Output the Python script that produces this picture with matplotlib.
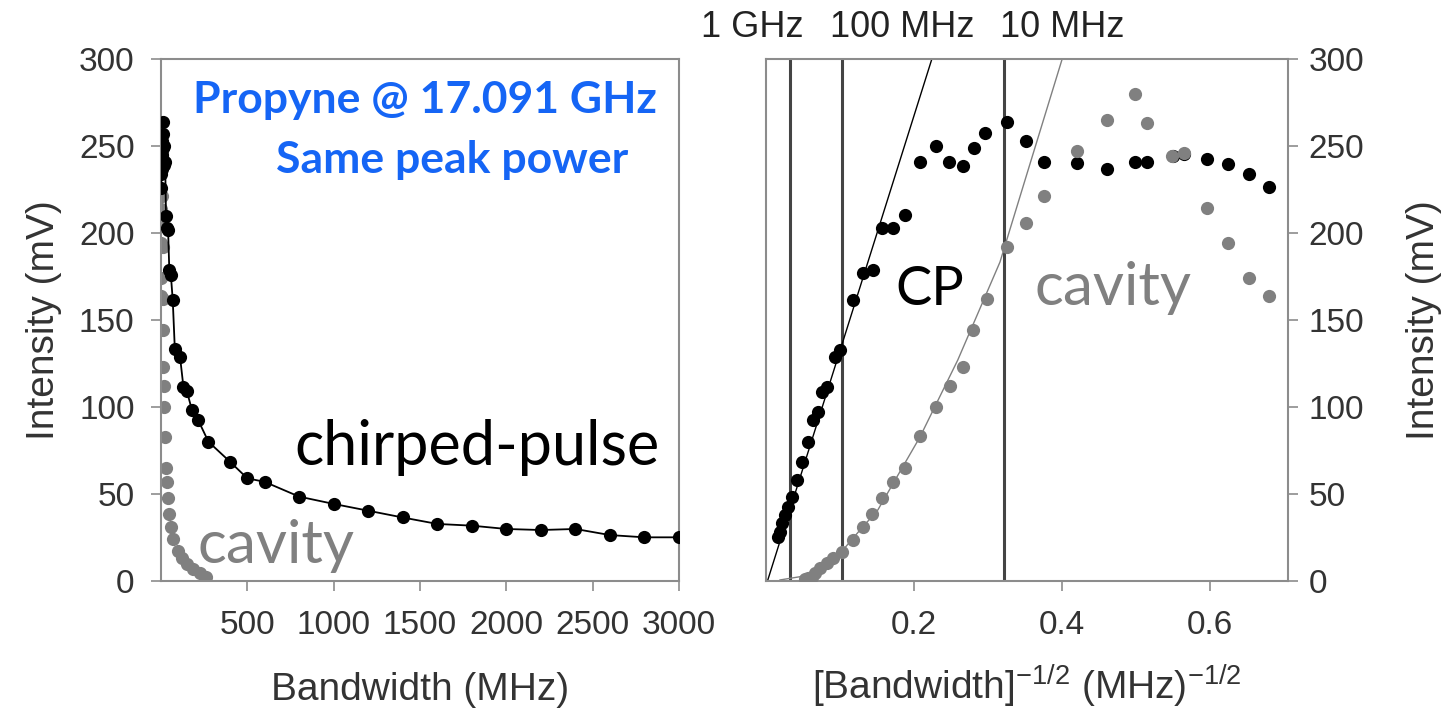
import matplotlib
matplotlib.use('Agg')
import matplotlib.pyplot as plt

plt.rcParams.update({
    'font.family': 'Liberation Sans',
    'mathtext.default': 'regular',
    'font.size': 22,
})

# left panel: intensity vs bandwidth
cp_bw = [2, 2.5, 3, 3.5, 4, 5, 6, 7, 8, 10, 12, 13, 15, 17, 19, 24, 29, 35, 41, 48,
         57, 68, 80, 110, 130, 150, 180, 215, 275, 400, 500, 600, 800, 1000, 1200,
         1400, 1600, 1800, 2000, 2200, 2400, 2600, 2800, 3000]
cp_mv = [226, 234, 242, 245, 241, 237, 240, 241, 253, 264, 257, 249, 239, 241, 250,
         241, 210, 203, 202, 179, 176, 161.5, 133.5, 129, 111.5, 109, 98, 92.5, 80,
         68.5, 59, 57, 48.5, 44.3, 40.4, 36.5, 32.8, 31.8, 29.9, 29.3, 29.9, 26.4,
         25.1, 25.1]
cav_bw = [2.2, 2.35, 2.6, 2.8, 3.1, 3.3, 3.8, 5.7, 7.1, 8.1, 9.5, 11.3,
          12.8, 14, 16, 19, 23, 28, 34, 41, 48, 58, 72, 96, 121, 149, 188, 228, 262]
cav_mv = [164, 174, 194, 214, 246, 244, 250, 247, 221, 206, 192, 162, 144,
          123, 112, 100, 83, 65, 57, 47.5, 38.5, 31, 24, 17, 13, 10, 7, 4.4, 2.5]

# right panel: intensity vs bandwidth^-1/2
cp_inv = [0.0166, 0.0189, 0.0212, 0.0257, 0.0301, 0.0347, 0.0415, 0.0482, 0.0572,
          0.0639, 0.0707, 0.0753, 0.0820, 0.0932, 0.1000, 0.118, 0.1315, 0.145,
          0.1564, 0.172, 0.188, 0.208, 0.229, 0.247, 0.266, 0.281, 0.296, 0.325,
          0.351, 0.375, 0.420, 0.460, 0.498, 0.514, 0.550, 0.565, 0.595, 0.624,
          0.652, 0.679]
cp_inv_mv = [25.5, 28.3, 33.2, 37.9, 42.7, 48.4, 58.0, 68.6, 80.1, 92.5, 97.3, 108.8,
             111.7, 128.9, 132.8, 161.5, 176.8, 178.7, 202.7, 202.7, 210.3, 241, 250.2,
             241, 238.5, 248.7, 257.3, 264, 252.9, 241, 240.4, 236.6, 241, 241, 244.3,
             245.4, 242.7, 239.7, 233.7, 226.3]
cav_inv = [0.053, 0.057, 0.0618, 0.0662, 0.0730, 0.0820, 0.0909, 0.1023, 0.118,
           0.1315, 0.1436, 0.1564, 0.172, 0.188, 0.208, 0.230, 0.249, 0.266, 0.280,
           0.298, 0.325, 0.351, 0.375, 0.420, 0.460, 0.498, 0.514, 0.548, 0.564,
           0.595, 0.624, 0.652, 0.679]
cav_inv_mv = [1.1, 1.7, 2.5, 4.4, 7.3, 10.2, 13.0, 16.8, 23.6, 31.2, 38.5, 47.5, 56.7,
              64.8, 83.3, 99.8, 112.1, 123.2, 144.3, 162.1, 192.1, 205.6, 221.3, 247.3,
              264.9, 279.9, 263.0, 244.3, 246.1, 214.2, 194.1, 174.0, 163.8]

# fit lines
cp_fit_x = [0.002, 0.224]
cp_fit_y = [0, 300]
cav_fit_x = [0.0189, 0.0595, 0.1027, 0.127, 0.151, 0.208, 0.259, 0.316, 0.354, 0.400]
cav_fit_y = [0.6, 3.4, 17.2, 29.3, 40.8, 82.8, 127, 183.3, 236.2, 300]

marker_lines = [0.033, 0.102, 0.321]
marker_labels = ['1 GHz', '100 MHz', '10 MHz']

GRAY = '#808080'
SPINE = '#8c8c8c'
TXT = '#333333'
BLUE = '#1565f5'


def style_axes(ax):
    for s in ax.spines.values():
        s.set_color(SPINE)
        s.set_linewidth(1.5)
    ax.tick_params(colors=SPINE, labelcolor=TXT, labelsize=24, length=7, width=1.2)


fig = plt.figure(figsize=(14.43, 7.10), dpi=100)
ax1 = fig.add_axes([161 / 1443, 1 - 581 / 710, (679 - 161) / 1443, 522 / 710])
ax2 = fig.add_axes([766 / 1443, 1 - 581 / 710, (1288 - 766) / 1443, 522 / 710])

# left panel
ax1.plot(cav_bw, cav_mv, 'o', color=GRAY, ms=9.5, mec='none', zorder=2)
ax1.plot(cp_bw, cp_mv, '-o', color='black', lw=1.3, ms=9.5, mec='none', zorder=3)
ax1.set_xlim(0, 3000)
ax1.set_ylim(0, 300)
ax1.set_xticks([500, 1000, 1500, 2000, 2500, 3000])
ax1.set_yticks(range(0, 301, 50))
ax1.set_xlabel('Bandwidth (MHz)', color=TXT, fontsize=28, labelpad=22)
ax1.set_ylabel('Intensity (mV)', color=TXT, fontsize=28, labelpad=12)
style_axes(ax1)
ax1.tick_params(axis='x', pad=14)
ax1.tick_params(axis='y', pad=12)

ax1.text(0.9575, 0.9215, 'Propyne @ 17.091 GHz', transform=ax1.transAxes,
         ha='right', va='center', fontsize=32, fontweight='bold', color=BLUE,
         family='Lato')
ax1.text(0.9015, 0.8065, 'Same peak power', transform=ax1.transAxes,
         ha='right', va='center', fontsize=32, fontweight='bold', color=BLUE,
         family='Lato')
ax1.text(0.963, 0.222, 'chirped-pulse', transform=ax1.transAxes,
         ha='right', va='baseline', fontsize=44, color='black', family='Lato')
ax1.text(0.0714, 0.0345, 'cavity', transform=ax1.transAxes,
         ha='left', va='baseline', fontsize=43.5, color=GRAY, family='Lato')

# right panel
for xv in marker_lines:
    ax2.axvline(xv, color='#444444', lw=2.2, zorder=1)
ax2.plot(cp_fit_x, cp_fit_y, '-', color='black', lw=1.0, zorder=2)
ax2.plot(cav_fit_x, cav_fit_y, '-', color=GRAY, lw=1.0, zorder=2)
ax2.plot(cp_inv, cp_inv_mv, 'o', color='black', ms=9.5, mec='none', zorder=3)
ax2.plot(cav_inv, cav_inv_mv, 'o', color=GRAY, ms=9.5, mec='none', zorder=4)
ax2.set_xlim(0, 0.705)
ax2.set_ylim(0, 300)
ax2.set_xticks([0.2, 0.4, 0.6])
ax2.set_yticks(range(0, 301, 50))
ax2.yaxis.tick_right()
ax2.yaxis.set_label_position('right')
ax2.set_xlabel(r'[Bandwidth]$^{-1/2}$ (MHz)$^{-1/2}$', color=TXT, fontsize=28,
               labelpad=16)
ax2.set_ylabel('Intensity (mV)', color=TXT, fontsize=28, labelpad=30)
style_axes(ax2)
ax2.tick_params(axis='x', pad=14)
ax2.tick_params(axis='y', pad=8)

ax2.text(0.247, 0.529, 'CP', transform=ax2.transAxes, ha='left', va='baseline',
         fontsize=39, color='black', family='Lato')
ax2.text(0.515, 0.529, 'cavity', transform=ax2.transAxes, ha='left', va='baseline',
         fontsize=43.5, color=GRAY, family='Lato')

for xc, lab in zip([752, 902, 1062], marker_labels):
    fig.text(xc / 1443, 1 - 37 / 710, lab, ha='center', va='baseline',
             fontsize=26, color='#222222')

fig.savefig('out.png', dpi=100)
